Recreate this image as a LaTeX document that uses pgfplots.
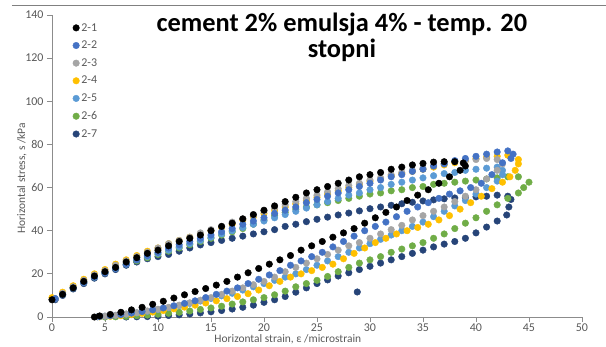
\documentclass[border=0pt]{standalone}
\usepackage{pgfplots}
\pgfplotsset{compat=1.18}
\usepackage{fontspec}
\setmainfont{Carlito}
\definecolor{c1}{HTML}{000000}
\definecolor{c2}{HTML}{4472C4}
\definecolor{c3}{HTML}{A5A5A5}
\definecolor{c4}{HTML}{FFC000}
\definecolor{c5}{HTML}{5B9BD5}
\definecolor{c6}{HTML}{70AD47}
\definecolor{c7}{HTML}{264478}
\definecolor{tickc}{HTML}{595959}
\definecolor{axc}{HTML}{8C8C8C}
\begin{document}
\begin{tikzpicture}
\begin{axis}[
  scale only axis, width=530bp, height=302bp,
  xmin=0, xmax=50, ymin=0, ymax=140,
  xtick={0,5,...,50}, ytick={0,20,...,140},
  axis x line=bottom, axis y line=left,
  axis line style={-, draw=axc, line width=0.8pt},
  tick style={draw=axc, line width=0.8pt},
  tick align=outside, major tick length=5bp,
  /pgf/number format/assume math mode=true,
  ticklabel style={font=\fontsize{12}{14}\selectfont, text=tickc},
  xticklabel style={yshift=1.5bp},
  xlabel={Horizontal strain, ε /microstrain},
  ylabel={Horizontal stress, s /kPa},
  label style={font=\fontsize{11.5}{13}\selectfont, text=tickc},
  xlabel style={at={(axis description cs:0.445,-0.074)}, anchor=center},
  ylabel style={at={(axis description cs:-0.0566,0.46)}, anchor=center},
  clip=false,
  every axis plot/.append style={only marks, mark=*, mark size=3.3pt},
  reverse legend,
  legend style={draw=none, fill=none, at={(rel axis cs:0.039,0.980)}, anchor=north west,
    font=\fontsize{12}{14}\selectfont, text=tickc, row sep=4.4bp, inner sep=0pt},
  legend cell align=left,
  legend image code/.code={\draw[#1] plot coordinates {(0.08cm,0cm)};},
]
% 2-7
\addplot[c7, mark options={fill=c7, draw=c7}] coordinates {
(0.3,8)(1,10)(2,13)(3,15.5)(4,18)(5,20)(6,22)(7,24)(8,25.5)(9,27)(10,28)(11,29)(12,30.5)(13,32)(14,33.4)(15,34.5)(16,35.5)(17,36.5)(18,37.5)(19,38.5)(20,39.5)(21,40.5)(22,42)(23,43)(24,44.2)(25,45.3)(26,46.3)(27,47.3)(28,48.2)(29,49.2)(30,50.2)(31,51)(32,51.8)(33,52.5)(34,53.2)(35,53.8)(36,54.3)(37,54.8)(38,55.2)(39,55.5)(40,55.7)(41,56)(42,56.5)(43,56)(43.3,54.5)
(43.1,51)(42.9,47.3)(42,44.5)(41,41.7)(40,39)(39,36.5)(38,35)(37,33.8)(36,32.5)(35,31)(34,29.5)(33,28)(32,26.5)(31,25)(30,23.5)(29,22)(28,20.5)(27,19)(26,17.2)(25,15.5)(24,13.5)(23,11.5)(22,9.5)(21,8)(20,6.8)(19,5.5)(18,4.5)(17,3.7)(16,3)(15,2.4)(14,1.9)(13,1.4)(12,1)(11,0.7)(10,0.4)(9,0.2)(8,0.1)(7,0)(28.8,11.6)
};
\addlegendentry{2-7}
% 2-6
\addplot[c6, mark options={fill=c6, draw=c6}] coordinates {
(0.3,8.5)(1,10.5)(2,13.5)(3,16)(4,18.5)(5,20.5)(6,22.5)(7,24.5)(8,26)(9,27.5)(10,29)(11,30.5)(12,32)(13,33.5)(14,35)(15,36.5)(16,38)(17,39.5)(18,41)(19,43)(20,45)(21,47)(22,48.5)(23,50)(24,51)(25,52)(26,53)(27,54)(28,55)(29,56)(30,57)(31,57.5)(32,58.5)(33,59)(34,60)(35,60.5)(36,61.5)(37,62)(38,62.5)(39,63)(40,63.5)(41,64)(42,64.5)(43,65)(44,65)(45,62.5)
(44.5,60)(44,57.5)(43,55)(42,52)(41,49)(40,46)(39,43.5)(38,41)(37,38.5)(36,36.5)(35,34.5)(34,33)(33,31.5)(32,30)(31,28)(30,26.5)(29,25)(28,23)(27,21)(26,18.8)(25,17)(24,15.5)(23,14)(22,12)(21,10.3)(20,9)(19,8)(18,7)(17,6)(16,5)(15,4.2)(14,3.5)(13,2.8)(12,2.2)(11,1.7)(10,1.3)(9,0.9)(8,0.6)(7,0.3)(6,0.1)(5,0)
};
\addlegendentry{2-6}
% 2-5
\addplot[c5, mark options={fill=c5, draw=c5}] coordinates {
(0.3,8.5)(1,10.5)(2,13.5)(3,16)(4,18.5)(5,20.5)(6,22.5)(7,24.5)(8,26.5)(9,28)(10,29.5)(11,31)(12,32.5)(13,34)(14,35.5)(15,37)(16,38.5)(17,40)(18,41.5)(19,43)(20,44.5)(21,46)(22,47.5)(23,49)(24,50.5)(25,52)(26,53.5)(27,55)(28,56.5)(29,57.5)(30,59)(31,60)(32,61.5)(33,62.5)(34,63.5)(35,64.5)(36,65.5)(37,66.5)(38,67)(39,68)(40,68.5)(41,69)(42,69.5)(42.5,68)
(42.5,66)(42,63)(41,60)(40,57)(39,54)(38,51.5)(37,49)(36,46.5)(35,44)(34,42)(33,40)(32,38)(31,36)(30,34)(29,32)(28,30)(27,28)(26,26)(25,24)(24,22)(23,20)(22,18.5)(21,17)(20,15.5)(19,14)(18,12.5)(17,11)(16,9.8)(15,8.6)(14,7.4)(13,6.3)(12,5.3)(11,4.3)(10,3.4)(9,2.6)(8,1.9)(7,1.3)(6,0.8)(5,0.4)(4.3,0.1)
};
\addlegendentry{2-5}
% 2-4
\addplot[c4, mark options={fill=c4, draw=c4}] coordinates {
(0,9)(1,11.5)(2,14.5)(3,17.5)(4,20)(5,22)(6,24.5)(7,26.5)(8,28.5)(9,30.5)(10,32)(11,34)(12,35.5)(13,37)(14,38.5)(15,40)(16,41.5)(17,43)(18,45)(19,46.5)(20,48)(21,49.5)(22,51)(23,52.5)(24,54)(25,55.5)(26,57)(27,58.5)(28,60)(29,61.5)(30,63)(31,64)(32,65.5)(33,66.5)(34,67.5)(35,68.5)(36,69.5)(37,70.5)(38,71.5)(39,72.5)(40,73.5)(41,74)(42,74.5)(43,75)(44,73)
(44,71)(43.7,68)(43.2,65)(42.5,62.5)(41.5,59.5)(40.5,56)(39.5,53)(38.5,50)(37.5,47)(36.5,45)(35.5,43)(34.5,41.5)(33.5,40)(32.5,38.5)(31.5,36.5)(30.5,34.5)(29.5,32)(28.5,29.5)(27.5,27)(26.5,24.5)(25.5,23)(24.5,21.5)(23.5,20)(22.5,18.5)(21.5,16.5)(20.5,14.5)(19.5,12.5)(18.5,10.8)(17.5,9.5)(16.5,8.5)(15.5,7.5)(14.5,6.5)(13.5,5.5)(12.5,4.6)(11.5,3.8)(10.5,3)(9.5,2.3)(8.5,1.7)(7.5,1.1)(6.5,0.6)(5.5,0.3)(4.5,0.1)
};
\addlegendentry{2-4}
% 2-3
\addplot[c3, mark options={fill=c3, draw=c3}] coordinates {
(0.3,8.5)(1,11)(2,14)(3,17)(4,19.5)(5,21.5)(6,24)(7,26)(8,28)(9,30)(10,32)(11,34)(12,35.5)(13,37)(14,39)(15,40.5)(16,42)(17,44)(18,45.5)(19,47)(20,49)(21,50.5)(22,52)(23,53.5)(24,55)(25,56.5)(26,58)(27,59.5)(28,61)(29,62)(30,63.5)(31,64.5)(32,66)(33,67)(34,68)(35,69)(36,70)(37,71)(38,72)(39,72.5)(40,73)(41,73.5)(42,73)
(42.5,71)(42,68)(41,64)(40,59)(39,56)(38,53.5)(37,51)(36,49)(35,47)(34,45)(33,42.5)(32,40.5)(31,38.5)(30,36.5)(29,34.5)(28,33)(27,31)(26,29)(25,27)(24,25)(23,23)(22,21)(21,18.5)(20,16.5)(19,15)(18,13.5)(17,12)(16,10.5)(15,9)(14,7.8)(13,6.6)(12,5.5)(11,4.5)(10,3.6)(9,2.8)(8,2)(7,1.4)(6,0.8)(5,0.4)(4.3,0.1)
};
\addlegendentry{2-3}
% 2-2
\addplot[c2, mark options={fill=c2, draw=c2}] coordinates {
(0.3,8.5)(1,10.5)(2,13.5)(3,16)(4,18.5)(5,20.5)(6,22.5)(7,24.5)(8,26.5)(9,28.5)(10,30)(11,32)(12,33.5)(13,35)(14,36.5)(15,38)(16,39.5)(17,41)(18,43)(19,44.5)(20,46)(21,48)(22,49.5)(23,51)(24,53)(25,54.5)(26,56)(27,57.5)(28,59)(29,60.5)(30,62)(31,63.5)(32,65)(33,66)(34,67.5)(35,68.5)(36,70)(37,71)(38,72.5)(39,73.5)(40,74.5)(41,75.5)(42,76.5)(43,77)(43.5,75.5)
(43.3,73.5)(42.5,71.5)(41.5,66)(40.5,62)(39.5,60)(38.5,58.5)(37.5,57)(36.5,55)(35.5,53)(34.5,51)(33.5,49)(32.5,46.5)(31.5,44)(30.5,42)(29.5,40)(28.5,37.5)(27.5,35)(26.5,32.5)(25.5,30)(24.5,28)(23.5,26)(22.5,24)(21.5,21.5)(20.5,19.5)(19.5,17.5)(18.5,15.5)(17.5,13.5)(16.5,12)(15.5,10.5)(14.5,9)(13.5,7.5)(12.5,6.3)(11.5,5.2)(10.5,4.2)(9.5,3.3)(8.5,2.5)(7.5,1.8)(6.5,1.1)(5.5,0.6)(4.5,0.2)
};
\addlegendentry{2-2}
% 2-1
\addplot[c1, mark options={fill=c1, draw=c1}] coordinates {
(0,8)(1,10.5)(2,13.5)(3,16.5)(4,19)(5,21)(6,23)(7,25.5)(8,27.5)(9,29.5)(10,31)(11,33)(12,35)(13,36.5)(14,38)(15,40)(16,42)(17,43.5)(18,45.5)(19,47.5)(20,49.5)(21,51.5)(22,53.5)(23,55.5)(24,57.5)(25,59)(26,60.5)(27,62)(28,63.5)(29,65)(30,66)(31,67)(32,68.5)(33,69.5)(34,70.5)(35,71.2)(36,71.8)(37,72)(38,72)(38.8,71.4)
(39,70)(38.5,68)(37.5,65)(36.5,62)(35.5,59)(34.5,56.5)(33.5,54)(32.5,51)(31.5,48.5)(30.5,46)(29.5,43.5)(28.5,41)(27.5,39)(26.5,37)(25.5,35)(24.5,33)(23.5,31)(22.5,28.5)(21.5,26.5)(20.5,24.5)(19.5,22.5)(18.5,20.5)(17.5,18.5)(16.5,16.5)(15.5,14.8)(14.5,13.2)(13.5,11.8)(12.5,10.3)(11.5,8.8)(10.5,7.3)(9.5,5.9)(8.5,4.5)(7.5,3.3)(6.5,2.2)(5.5,1.2)(4.5,0.5)(4,0)
};
\addlegendentry{2-1}
\node[anchor=north, align=center, font=\bfseries\fontsize{26.5}{27}\selectfont] at (rel axis cs:0.547,1.02) {cement 2\% emulsja 4\% - temp. 20\\stopni};
\draw[draw=gray, line width=0.8pt] (rel axis cs:-0.0755,1.033) -- (rel axis cs:1.0453,1.033);
\coordinate (bbl) at (rel axis cs:-0.0981,-0.0993);
\coordinate (btr) at (rel axis cs:1.0453,1.0497);
\end{axis}
\pgfresetboundingbox
\path[use as bounding box] (bbl) rectangle (btr);
\end{tikzpicture}
\end{document}
